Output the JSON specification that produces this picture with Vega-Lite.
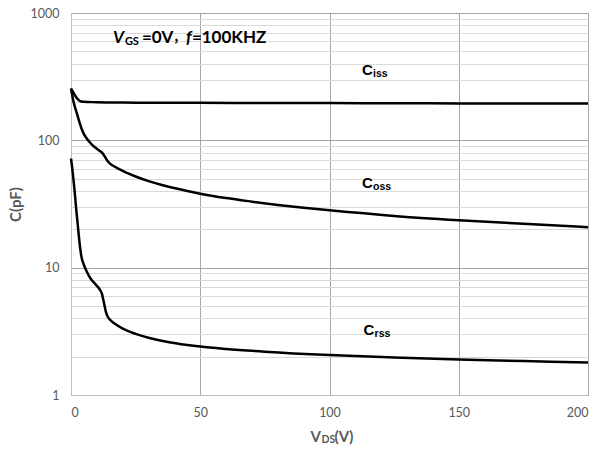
{
  "$schema": "https://vega.github.io/schema/vega-lite/v6.json",
  "width": 517,
  "height": 382,
  "autosize": {"type": "none"},
  "padding": {"left": 71, "top": 13, "right": 18, "bottom": 57},
  "background": "white",
  "config": {
    "view": {"stroke": "#b0b0b0", "strokeWidth": 1},
    "axis": {"labelFont": "Lato", "labelColor": "#595959", "labelFontSize": 12.5, "titleFont": "Lato", "titleColor": "#595959"}
  },
  "datasets": {
    "curves": [
      {"x": 0, "C": 255, "series": "Ciss"},
      {"x": 1, "C": 236, "series": "Ciss"},
      {"x": 2, "C": 218, "series": "Ciss"},
      {"x": 3, "C": 207, "series": "Ciss"},
      {"x": 4, "C": 202, "series": "Ciss"},
      {"x": 5, "C": 200.5, "series": "Ciss"},
      {"x": 7, "C": 200, "series": "Ciss"},
      {"x": 10, "C": 199, "series": "Ciss"},
      {"x": 15, "C": 198.5, "series": "Ciss"},
      {"x": 20, "C": 198, "series": "Ciss"},
      {"x": 30, "C": 197.5, "series": "Ciss"},
      {"x": 50, "C": 197, "series": "Ciss"},
      {"x": 75, "C": 196.5, "series": "Ciss"},
      {"x": 100, "C": 196, "series": "Ciss"},
      {"x": 125, "C": 195.5, "series": "Ciss"},
      {"x": 150, "C": 195, "series": "Ciss"},
      {"x": 175, "C": 195, "series": "Ciss"},
      {"x": 200, "C": 194.5, "series": "Ciss"},
      {"x": 0, "C": 255, "series": "Coss"},
      {"x": 1, "C": 200, "series": "Coss"},
      {"x": 2, "C": 170, "series": "Coss"},
      {"x": 3, "C": 145, "series": "Coss"},
      {"x": 4, "C": 125, "series": "Coss"},
      {"x": 5, "C": 112, "series": "Coss"},
      {"x": 6, "C": 104, "series": "Coss"},
      {"x": 7, "C": 98, "series": "Coss"},
      {"x": 8, "C": 93, "series": "Coss"},
      {"x": 9, "C": 89, "series": "Coss"},
      {"x": 10, "C": 86, "series": "Coss"},
      {"x": 11, "C": 83, "series": "Coss"},
      {"x": 12, "C": 80, "series": "Coss"},
      {"x": 13, "C": 75, "series": "Coss"},
      {"x": 14, "C": 69.5, "series": "Coss"},
      {"x": 15, "C": 66, "series": "Coss"},
      {"x": 17, "C": 62, "series": "Coss"},
      {"x": 20, "C": 57.5, "series": "Coss"},
      {"x": 25, "C": 52, "series": "Coss"},
      {"x": 30, "C": 47.8, "series": "Coss"},
      {"x": 37, "C": 43.6, "series": "Coss"},
      {"x": 45, "C": 40.0, "series": "Coss"},
      {"x": 50, "C": 38.1, "series": "Coss"},
      {"x": 60, "C": 35.2, "series": "Coss"},
      {"x": 70, "C": 33.0, "series": "Coss"},
      {"x": 80, "C": 31.1, "series": "Coss"},
      {"x": 90, "C": 29.5, "series": "Coss"},
      {"x": 100, "C": 28.2, "series": "Coss"},
      {"x": 125, "C": 25.5, "series": "Coss"},
      {"x": 150, "C": 23.6, "series": "Coss"},
      {"x": 175, "C": 22.1, "series": "Coss"},
      {"x": 200, "C": 20.8, "series": "Coss"},
      {"x": 0, "C": 72, "series": "Crss"},
      {"x": 0.5, "C": 60, "series": "Crss"},
      {"x": 1, "C": 48, "series": "Crss"},
      {"x": 1.5, "C": 38, "series": "Crss"},
      {"x": 2, "C": 29, "series": "Crss"},
      {"x": 2.5, "C": 23, "series": "Crss"},
      {"x": 3, "C": 18, "series": "Crss"},
      {"x": 3.5, "C": 14.5, "series": "Crss"},
      {"x": 4, "C": 12.3, "series": "Crss"},
      {"x": 5, "C": 10.5, "series": "Crss"},
      {"x": 6, "C": 9.4, "series": "Crss"},
      {"x": 7, "C": 8.6, "series": "Crss"},
      {"x": 8, "C": 8.0, "series": "Crss"},
      {"x": 9, "C": 7.6, "series": "Crss"},
      {"x": 10, "C": 7.2, "series": "Crss"},
      {"x": 11, "C": 6.8, "series": "Crss"},
      {"x": 12, "C": 6.2, "series": "Crss"},
      {"x": 12.5, "C": 5.6, "series": "Crss"},
      {"x": 13, "C": 5.0, "series": "Crss"},
      {"x": 13.5, "C": 4.5, "series": "Crss"},
      {"x": 14, "C": 4.2, "series": "Crss"},
      {"x": 15, "C": 3.92, "series": "Crss"},
      {"x": 17, "C": 3.62, "series": "Crss"},
      {"x": 20, "C": 3.32, "series": "Crss"},
      {"x": 25, "C": 3.02, "series": "Crss"},
      {"x": 30, "C": 2.82, "series": "Crss"},
      {"x": 37, "C": 2.62, "series": "Crss"},
      {"x": 45, "C": 2.47, "series": "Crss"},
      {"x": 50, "C": 2.40, "series": "Crss"},
      {"x": 60, "C": 2.30, "series": "Crss"},
      {"x": 75, "C": 2.19, "series": "Crss"},
      {"x": 100, "C": 2.06, "series": "Crss"},
      {"x": 125, "C": 1.97, "series": "Crss"},
      {"x": 150, "C": 1.90, "series": "Crss"},
      {"x": 175, "C": 1.85, "series": "Crss"},
      {"x": 200, "C": 1.80, "series": "Crss"}
    ],
    "labels": [
      {"x": 112.6, "C": 357, "main": "C", "sub": "iss"},
      {"x": 112.6, "C": 46.3, "main": "C", "sub": "oss"},
      {"x": 113.2, "C": 3.24, "main": "C", "sub": "rss"}
    ],
    "note": [
      {"x": 16.2, "C": 637, "v": "V", "gs": "GS", "eq": "=0V", "comma": "，", "f": "f", "freq": "=100KHZ"}
    ],
    "xtitle": [
      {"x": 100, "C": 0.47, "v": "V", "ds": "DS", "unit": "(V)"}
    ]
  },
  "layer": [
    {
      "data": {"name": "curves"},
      "mark": {"type": "line", "color": "black", "strokeWidth": 2.5, "interpolate": "monotone"},
      "encoding": {
        "x": {
          "field": "x", "type": "quantitative",
          "scale": {"domain": [0, 200], "nice": false, "zero": false},
          "axis": {
            "title": null, "values": [0, 50, 100, 150, 200], "ticks": false,
            "labelPadding": 11, "domainColor": "#bfbfbf", "gridColor": "#a6a6a6", "gridWidth": 1
          }
        },
        "y": {
          "field": "C", "type": "quantitative",
          "scale": {"type": "log", "domain": [1, 1000], "nice": false},
          "axis": {
            "title": "C(pF)", "titleFontWeight": "bold", "titleFontSize": 15, "titlePadding": 7,
            "values": [1, 2, 3, 4, 5, 6, 7, 8, 9, 10, 20, 30, 40, 50, 60, 70, 80, 90, 100, 200, 300, 400, 500, 600, 700, 800, 900, 1000],
            "labelExpr": "indexof([1, 10, 100, 1000], datum.value) >= 0 ? datum.value + '' : ''",
            "labelOverlap": false, "ticks": false, "labelPadding": 12,
            "domainColor": "#bfbfbf",
            "gridColor": {"condition": {"test": "indexof([1, 10, 100, 1000], datum.value) >= 0", "value": "#a6a6a6"}, "value": "#d9d9d9"},
            "gridWidth": 1
          }
        },
        "detail": {"field": "series"}
      }
    },
    {
      "data": {"name": "labels"},
      "mark": {"type": "text", "align": "left", "baseline": "middle", "font": "Liberation Sans", "fontWeight": "bold", "fontSize": 15, "color": "black"},
      "encoding": {
        "x": {"field": "x", "type": "quantitative"},
        "y": {"field": "C", "type": "quantitative"},
        "text": {"field": "main"}
      }
    },
    {
      "data": {"name": "labels"},
      "mark": {"type": "text", "align": "left", "baseline": "middle", "font": "Liberation Sans", "fontWeight": "bold", "fontSize": 10.5, "color": "black", "dx": 11, "dy": 4},
      "encoding": {
        "x": {"field": "x", "type": "quantitative"},
        "y": {"field": "C", "type": "quantitative"},
        "text": {"field": "sub"}
      }
    },
    {
      "data": {"name": "note"},
      "mark": {"type": "text", "align": "left", "baseline": "middle", "font": "Lato", "fontWeight": "bold", "fontStyle": "italic", "fontSize": 17, "color": "black"},
      "encoding": {
        "x": {"field": "x", "type": "quantitative"},
        "y": {"field": "C", "type": "quantitative"},
        "text": {"field": "v"}
      }
    },
    {
      "data": {"name": "note"},
      "mark": {"type": "text", "align": "left", "baseline": "middle", "font": "Lato", "fontWeight": "bold", "fontSize": 11, "color": "black", "dx": 12, "dy": 4},
      "encoding": {
        "x": {"field": "x", "type": "quantitative"},
        "y": {"field": "C", "type": "quantitative"},
        "text": {"field": "gs"}
      }
    },
    {
      "data": {"name": "note"},
      "mark": {"type": "text", "align": "left", "baseline": "middle", "font": "Lato", "fontWeight": "bold", "fontSize": 17, "color": "black", "dx": 29},
      "encoding": {
        "x": {"field": "x", "type": "quantitative"},
        "y": {"field": "C", "type": "quantitative"},
        "text": {"field": "eq"}
      }
    },
    {
      "data": {"name": "note"},
      "mark": {"type": "text", "align": "left", "baseline": "middle", "font": "Noto Sans CJK SC", "fontWeight": "bold", "fontSize": 12, "color": "black", "dx": 60},
      "encoding": {
        "x": {"field": "x", "type": "quantitative"},
        "y": {"field": "C", "type": "quantitative"},
        "text": {"field": "comma"}
      }
    },
    {
      "data": {"name": "note"},
      "mark": {"type": "text", "align": "left", "baseline": "middle", "font": "Lato", "fontWeight": "bold", "fontStyle": "italic", "fontSize": 17, "color": "black", "dx": 73},
      "encoding": {
        "x": {"field": "x", "type": "quantitative"},
        "y": {"field": "C", "type": "quantitative"},
        "text": {"field": "f"}
      }
    },
    {
      "data": {"name": "note"},
      "mark": {"type": "text", "align": "left", "baseline": "middle", "font": "Lato", "fontWeight": "bold", "fontSize": 17, "color": "black", "dx": 79},
      "encoding": {
        "x": {"field": "x", "type": "quantitative"},
        "y": {"field": "C", "type": "quantitative"},
        "text": {"field": "freq"}
      }
    },
    {
      "data": {"name": "xtitle"},
      "mark": {"type": "text", "align": "left", "baseline": "middle", "font": "Lato", "fontWeight": "bold", "fontSize": 15, "color": "#595959", "dx": -19, "clip": false},
      "encoding": {
        "x": {"field": "x", "type": "quantitative"},
        "y": {"field": "C", "type": "quantitative"},
        "text": {"field": "v"}
      }
    },
    {
      "data": {"name": "xtitle"},
      "mark": {"type": "text", "align": "left", "baseline": "middle", "font": "Lato", "fontWeight": "bold", "fontSize": 10.5, "color": "#595959", "dx": -8, "dy": 3, "clip": false},
      "encoding": {
        "x": {"field": "x", "type": "quantitative"},
        "y": {"field": "C", "type": "quantitative"},
        "text": {"field": "ds"}
      }
    },
    {
      "data": {"name": "xtitle"},
      "mark": {"type": "text", "align": "left", "baseline": "middle", "font": "Lato", "fontWeight": "bold", "fontSize": 15, "color": "#595959", "dx": 5, "clip": false},
      "encoding": {
        "x": {"field": "x", "type": "quantitative"},
        "y": {"field": "C", "type": "quantitative"},
        "text": {"field": "unit"}
      }
    }
  ]
}
